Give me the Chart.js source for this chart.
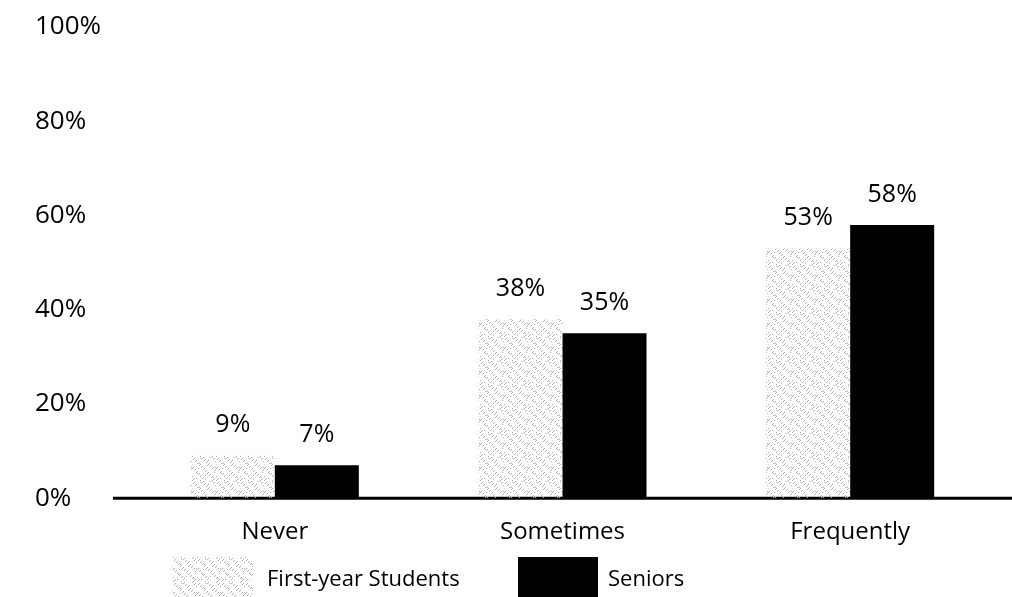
<!DOCTYPE html>
<html>
<head>
<meta charset="utf-8">
<script src="https://cdn.jsdelivr.net/npm/chart.js@4"></script>
<style>
  html, body { margin: 0; padding: 0; background: #fff; }
  #wrap { position: relative; width: 1012px; height: 597px; overflow: hidden; }
  #leyenda { position: absolute; left: 0; top: 557px; font-family: 'Open Sans', sans-serif; font-size: 22px; color: #000; }
  .item { position: absolute; top: 0; height: 40px; display: flex; align-items: center; white-space: nowrap; }
  .caja { width: 80px; height: 40px; margin-right: 14px; }
</style>
</head>
<body>
<div id="wrap">
  <canvas id="grafico" width="1012" height="597"></canvas>
  <div id="leyenda"></div>
</div>
<script>
// 1. Datos
const categorias = ['Never', 'Sometimes', 'Frequently'];
const primerAnio = [9, 38, 53];
const seniors = [7, 35, 58];
const nombresSeries = ['First-year Students', 'Seniors'];
const ticksY = [0, 20, 40, 60, 80, 100];

// textura punteada para la serie gris (determinista)
function crearTextura() {
    const t = document.createElement('canvas');
    t.width = 24; t.height = 24;
    const c = t.getContext('2d');
    c.fillStyle = '#b0b0b0';
    for (let x = 0; x < 24; x++) {
        for (let y = 0; y < 24; y++) {
            if ((x + y) % 4 === 0 && (x * 7 + y * 3) % 5 < 2) c.fillRect(x, y, 1, 1);
            if ((x - y + 24) % 6 === 0 && (x * 5 + y) % 7 === 0) c.fillRect(x, y, 1, 1);
        }
    }
    return t;
}
const textura = crearTextura();

// 2. Leyenda en HTML
function generarLeyenda() {
    const cont = document.getElementById('leyenda');
    const posiciones = [173, 518];
    nombresSeries.forEach((nombre, i) => {
        const item = document.createElement('div');
        item.className = 'item';
        item.style.left = posiciones[i] + 'px';
        const caja = document.createElement('canvas');
        caja.className = 'caja';
        caja.width = 80; caja.height = 40;
        const c = caja.getContext('2d');
        if (i === 0) {
            c.fillStyle = c.createPattern(textura, 'repeat');
        } else {
            c.fillStyle = '#000';
            caja.style.marginRight = '10px';
        }
        c.fillRect(0, 0, 80, 40);
        item.appendChild(caja);
        item.appendChild(document.createTextNode(nombre));
        cont.appendChild(item);
    });
}

// 3. Plugins: línea base y etiquetas de valor
const lineaBase = {
    id: 'lineaBase',
    beforeDatasetsDraw(chart) {
        const ctx = chart.ctx;
        const y0 = chart.scales.y.getPixelForValue(0);
        ctx.save();
        ctx.strokeStyle = '#000';
        ctx.lineWidth = 3;
        ctx.beginPath();
        ctx.moveTo(113, y0);
        ctx.lineTo(chart.width, y0);
        ctx.stroke();
        ctx.restore();
    }
};

const etiquetas = {
    id: 'etiquetas',
    afterDatasetsDraw(chart) {
        const ctx = chart.ctx;
        ctx.save();
        ctx.fillStyle = '#000';
        ctx.font = "25px 'Open Sans'";
        ctx.textAlign = 'center';
        ctx.textBaseline = 'bottom';
        chart.data.datasets.forEach((ds, i) => {
            chart.getDatasetMeta(i).data.forEach((bar, j) => {
                ctx.fillText(ds.data[j] + '%', bar.x, bar.y - 18);
            });
        });
        ctx.restore();
    }
};

window.onload = function () {
    generarLeyenda();
    Chart.defaults.font.family = "'Open Sans', sans-serif";
    Chart.defaults.font.size = 24;
    Chart.defaults.color = '#000';

    const ctx = document.getElementById('grafico');
    const ctx2d = ctx.getContext('2d');

    new Chart(ctx, {
        type: 'bar',
        data: {
            labels: categorias,
            datasets: [
                {
                    label: nombresSeries[0],
                    data: primerAnio,
                    backgroundColor: ctx2d.createPattern(textura, 'repeat'),
                    borderWidth: 0
                },
                {
                    label: nombresSeries[1],
                    data: seniors,
                    backgroundColor: '#000',
                    borderWidth: 0
                }
            ]
        },
        options: {
            responsive: false,
            animation: false,
            layout: { padding: { left: 35, right: 18, top: 27, bottom: 38 } },
            datasets: {
                bar: { categoryPercentage: 0.584, barPercentage: 1 }
            },
            plugins: {
                legend: { display: false },
                tooltip: { enabled: false }
            },
            scales: {
                x: {
                    grid: { display: false },
                    border: { display: false },
                    ticks: { padding: 12 }
                },
                y: {
                    min: 0,
                    max: 100,
                    afterBuildTicks(scale) {
                        scale.ticks = ticksY.map(v => ({ value: v }));
                    },
                    afterFit(scale) { scale.width = 96; },
                    grid: { display: false },
                    border: { display: false },
                    ticks: {
                        crossAlign: 'far',
                        font: { size: 26 },
                        callback: v => v + '%'
                    }
                }
            }
        },
        plugins: [lineaBase, etiquetas]
    });
};
</script>
</body>
</html>
